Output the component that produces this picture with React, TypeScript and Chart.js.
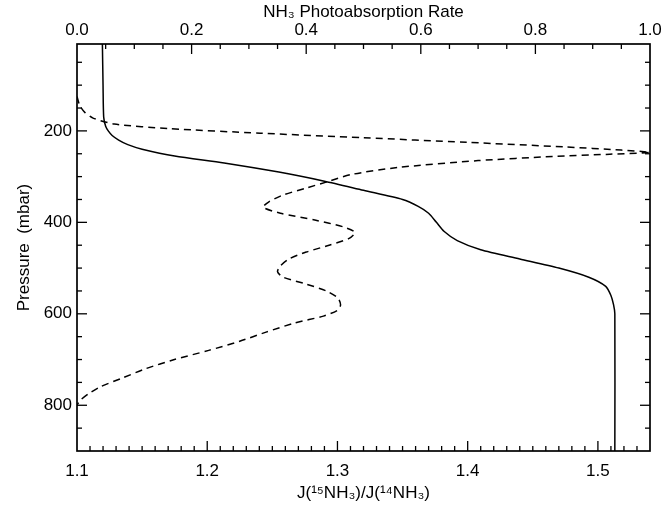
import React, { useEffect, useRef } from 'react';
import { Chart, registerables } from 'chart.js';

Chart.register(...registerables);

// Solid curve: J(15NH3)/J(14NH3) versus pressure (bottom axis)
const solidPressure = [10, 100, 170, 190, 200, 210, 220, 230, 240, 255, 270, 290, 310, 330, 350, 365, 380, 400, 420, 440, 460, 480, 500, 520, 540, 560, 580, 600, 900];
const solidRatio = [1.1195, 1.1200, 1.1205, 1.122, 1.124, 1.127, 1.132, 1.139, 1.150, 1.175, 1.213, 1.255, 1.290, 1.320, 1.350, 1.362, 1.370, 1.376, 1.382, 1.392, 1.410, 1.440, 1.470, 1.493, 1.506, 1.510, 1.512, 1.513, 1.513];

// Dashed curve: NH3 photoabsorption rate versus pressure (top axis)
const dashedPressure = [125, 145, 160, 172, 185, 195, 205, 215, 225, 235, 242, 247, 251, 256, 265, 280, 295, 310, 325, 340, 355, 367, 380, 395, 410, 422, 435, 450, 465, 480, 495, 508, 520, 535, 550, 565, 580, 592, 605, 620, 640, 660, 680, 700, 720, 740, 760, 775, 790, 800];
const dashedRate = [0, 0.005, 0.014, 0.028, 0.065, 0.16, 0.32, 0.50, 0.68, 0.85, 0.95, 1.0, 0.93, 0.83, 0.70, 0.56, 0.48, 0.44, 0.40, 0.36, 0.335, 0.325, 0.355, 0.415, 0.465, 0.485, 0.475, 0.44, 0.40, 0.37, 0.355, 0.35, 0.36, 0.40, 0.435, 0.455, 0.46, 0.455, 0.43, 0.38, 0.33, 0.284, 0.23, 0.17, 0.12, 0.08, 0.04, 0.02, 0.005, 0];

// Tick labels
const bottomTicks = [1.1, 1.2, 1.3, 1.4, 1.5];
const topTicks = [0.0, 0.2, 0.4, 0.6, 0.8, 1.0];
const pressureTicks = [200, 400, 600, 800];

const xRange = [1.1, 1.54];
const topRange = [0, 1];
const pressureRange = [10, 900];

const FONT = "'Liberation Sans', 'DejaVu Sans', Arial, sans-serif";
const FONT_SIZE = 17;

const frameAndTitles = {
  id: 'frameAndTitles',
  afterDraw(chart: any) {
    const { ctx, chartArea: a, scales } = chart;
    ctx.save();
    ctx.strokeStyle = '#000';
    ctx.lineWidth = 1.7;
    ctx.strokeRect(a.left, a.top, a.right - a.left, a.bottom - a.top);
    ctx.lineWidth = 1.3;
    const seg = (x1: number, y1: number, x2: number, y2: number) => {
      ctx.beginPath();
      ctx.moveTo(x1, y1);
      ctx.lineTo(x2, y2);
      ctx.stroke();
    };
    const y = scales.y;
    for (let v = 50; v < pressureRange[1]; v += 50) {
      if (v <= y.min) continue;
      const py = y.getPixelForValue(v);
      const len = v % 200 === 0 ? 10 : 5;
      seg(a.left, py, a.left + len, py);
      seg(a.right, py, a.right - len, py);
    }
    const x = scales.x;
    for (let i = 111; i < 154; i++) {
      const v = i / 100;
      const px = x.getPixelForValue(v);
      const len = i % 10 === 0 ? 10 : 5;
      seg(px, a.bottom, px, a.bottom - len);
    }
    const x2 = scales.x2;
    for (let i = 1; i < 20; i++) {
      const v = i * 0.05;
      const px = x2.getPixelForValue(v);
      const len = i % 4 === 0 ? 10 : 5;
      seg(px, a.top, px, a.top + len);
    }
    ctx.fillStyle = '#000';
    ctx.font = `${FONT_SIZE}px ${FONT}`;
    ctx.textAlign = 'center';
    ctx.textBaseline = 'middle';
    const cx = (a.left + a.right) / 2;
    ctx.fillText('NH₃ Photoabsorption Rate', cx, 12);
    ctx.fillText('J(¹⁵NH₃)/J(¹⁴NH₃)', cx, 493);
    ctx.save();
    ctx.translate(24, (a.top + a.bottom) / 2);
    ctx.rotate(-Math.PI / 2);
    ctx.fillText('Pressure  (mbar)', 0, 0);
    ctx.restore();
    ctx.restore();
  },
};

const tickFont = { family: FONT, size: FONT_SIZE };

export default function App() {
  const ref = useRef<HTMLCanvasElement | null>(null);
  useEffect(() => {
    document.body.style.margin = '0';
    const canvas = ref.current;
    if (!canvas) return;
    const chart = new Chart(canvas, {
      type: 'scatter',
      data: {
        datasets: [
          {
            label: 'J ratio',
            data: solidPressure.map((p, i) => ({ x: solidRatio[i], y: p })),
            xAxisID: 'x',
            yAxisID: 'y',
            showLine: true,
            borderColor: '#000',
            borderWidth: 1.5,
            pointRadius: 0,
            tension: 0.25,
          },
          {
            label: 'Photoabsorption rate',
            data: dashedPressure.map((p, i) => ({ x: dashedRate[i], y: p })),
            xAxisID: 'x2',
            yAxisID: 'y',
            showLine: true,
            borderColor: '#000',
            borderWidth: 1.5,
            borderDash: [7, 5],
            pointRadius: 0,
            tension: 0.25,
          },
        ],
      },
      options: {
        responsive: false,
        animation: false,
        layout: { padding: { left: 0, right: 15, top: 0, bottom: 0 } },
        plugins: { legend: { display: false }, tooltip: { enabled: false } },
        scales: {
          x: {
            type: 'linear',
            position: 'bottom',
            min: xRange[0],
            max: xRange[1],
            grid: { display: false, drawTicks: false },
            border: { display: false },
            afterBuildTicks: (s: any) => { s.ticks = bottomTicks.map((v) => ({ value: v })); },
            afterFit: (s: any) => { s.height = 57; },
            ticks: {
              autoSkip: false,
              maxRotation: 0,
              color: '#000',
              font: tickFont,
              padding: 10,
              callback: (v: any) => Number(v).toFixed(1),
            },
          },
          x2: {
            type: 'linear',
            position: 'top',
            min: topRange[0],
            max: topRange[1],
            grid: { display: false, drawTicks: false },
            border: { display: false },
            afterBuildTicks: (s: any) => { s.ticks = topTicks.map((v) => ({ value: v })); },
            afterFit: (s: any) => { s.height = 44; },
            ticks: {
              autoSkip: false,
              maxRotation: 0,
              color: '#000',
              font: tickFont,
              padding: 3,
              callback: (v: any) => Number(v).toFixed(1),
            },
          },
          y: {
            type: 'linear',
            position: 'left',
            reverse: true,
            min: pressureRange[0],
            max: pressureRange[1],
            grid: { display: false, drawTicks: false },
            border: { display: false },
            afterBuildTicks: (s: any) => { s.ticks = pressureTicks.map((v) => ({ value: v })); },
            afterFit: (s: any) => { s.width = 77; },
            ticks: {
              autoSkip: false,
              color: '#000',
              font: tickFont,
              padding: 5,
              callback: (v: any) => String(v),
            },
          },
        },
      },
      plugins: [frameAndTitles],
    } as any);
    return () => chart.destroy();
  }, []);
  return (
    <div style={{ width: 665, height: 508 }}>
      <canvas ref={ref} width={665} height={508} />
    </div>
  );
}
